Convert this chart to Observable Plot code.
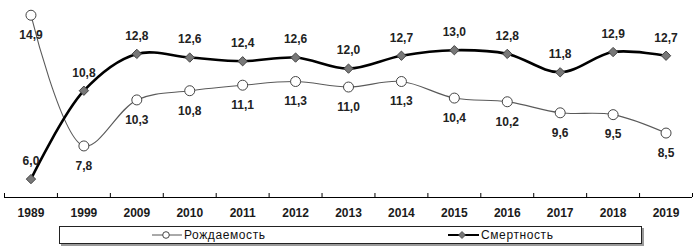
<!DOCTYPE html>
<html><head><meta charset="utf-8">
<script src="https://cdn.jsdelivr.net/npm/d3@7"></script>
<script src="https://cdn.jsdelivr.net/npm/@observablehq/plot@0.6"></script>
<style>
body{margin:0;background:#fff;font-family:"Liberation Sans",Arial,sans-serif;}
#chart{position:relative;width:700px;height:249px;overflow:hidden;}
#chart svg{display:block;}
#legend{position:absolute;left:59px;top:226px;width:581px;height:16px;border:1px solid #222;box-shadow:2px 2px 0 #9a9a9a;font-size:12px;color:#111;background:#fff;}
.item{position:absolute;top:0;height:16px;display:flex;align-items:center;letter-spacing:0.6px;}
.item svg{margin-right:2px;}
</style></head><body><div id="chart"></div>
<script>
const years = ["1989","1999","2009","2010","2011","2012","2013","2014","2015","2016","2017","2018","2019"];
const birth = [14.9, 7.8, 10.3, 10.8, 11.1, 11.3, 11.0, 11.3, 10.4, 10.2, 9.6, 9.5, 8.5];
const death = [6.0, 10.8, 12.8, 12.6, 12.4, 12.6, 12.0, 12.7, 13.0, 12.8, 11.8, 12.9, 12.7];
const seriesNames = ["Рождаемость", "Смертность"];

const idx = years.map((_, i) => i);
const yMin = 5, yMax = 15.7;
const fmt = v => v.toFixed(1).replace(".", ",");
const birthData = idx.map(i => ({i, v: birth[i]}));
const deathData = idx.map(i => ({i, v: death[i]}));
const bounds = d3.range(years.length + 1).map(k => k - 0.5);
const font = '"Liberation Sans", Arial, sans-serif';

const plot = Plot.plot({
  width: 700, height: 224,
  marginLeft: 4, marginRight: 8, marginTop: 0, marginBottom: 27,
  x: {domain: [-0.5, years.length - 0.5], axis: null, label: null},
  y: {domain: [yMin, yMax], axis: null, label: null},
  style: {fontFamily: font, background: "white", overflow: "visible", color: "#1a1a1a"},
  marks: [
    Plot.ruleY([yMin], {stroke: "#000", strokeWidth: 1}),
    Plot.ruleX(bounds, {x: d => d, y1: yMin, y2: yMin, insetBottom: 4, stroke: "#000"}),
    Plot.axisX(idx, {tickSize: 0, tickPadding: 11, tickFormat: i => years[i], label: null, fontWeight: "bold", fontSize: 12}),
    Plot.line(birthData, {x: "i", y: "v", curve: "catmull-rom", stroke: "#5a5a5a", strokeWidth: 1.1}),
    Plot.line(deathData, {x: "i", y: "v", curve: "catmull-rom", stroke: "#000", strokeWidth: 2.6}),
    Plot.dot(birthData, {x: "i", y: "v", r: 5, fill: "white", stroke: "#444", strokeWidth: 1}),
    Plot.dot(deathData, {x: "i", y: "v", symbol: "diamond2", r: 4.2, fill: "#787878", stroke: "#444", strokeWidth: 1}),
    Plot.text(birthData, {x: "i", y: "v", text: d => fmt(d.v), dy: 20, fontWeight: "bold", fontSize: 12, fill: "#222"}),
    Plot.text(deathData, {x: "i", y: "v", text: d => fmt(d.v), dy: -18, fontWeight: "bold", fontSize: 12, fill: "#222"})
  ]
});
const chart = document.getElementById("chart");
chart.appendChild(plot);

const legend = document.createElement("div");
legend.id = "legend";
legend.innerHTML = `
<div class="item" style="left:92px"><svg width="30" height="16"><line x1="0" x2="30" y1="8" y2="8" stroke="#555" stroke-width="1"/><circle cx="14" cy="8" r="3.3" fill="#fff" stroke="#444"/></svg>${seriesNames[0]}</div>
<div class="item" style="left:388px"><svg width="31" height="16"><line x1="0" x2="31" y1="8" y2="8" stroke="#000" stroke-width="2"/><path d="M14,4.5L17.5,8L14,11.5L10.5,8Z" fill="#777" stroke="#444" stroke-width="0.8"/></svg>${seriesNames[1]}</div>`;
chart.appendChild(legend);
</script>
</body></html>
